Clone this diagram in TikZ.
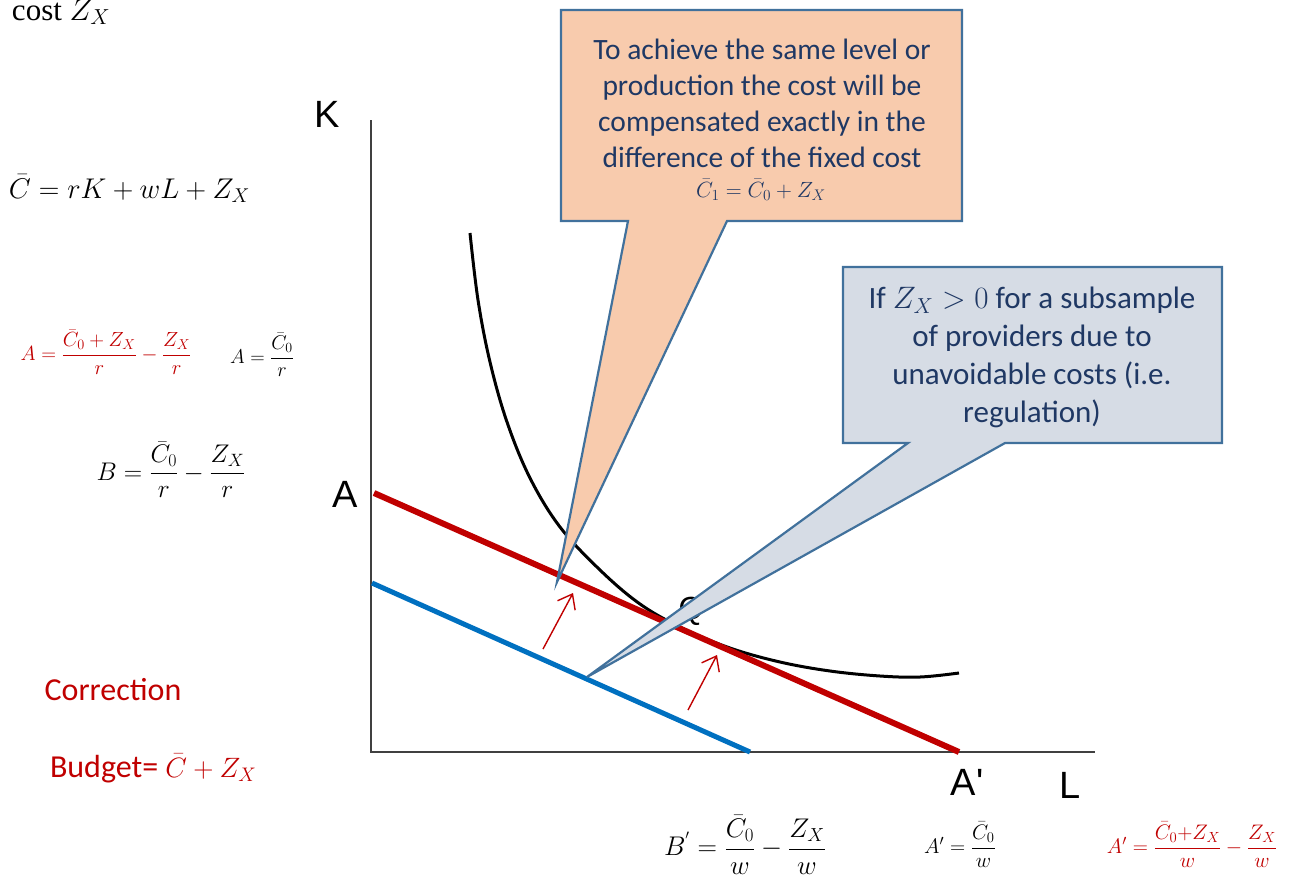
\RequirePackage{fix-cm}
\documentclass[tikz,border=0pt]{standalone}
\usepackage{amsmath}
\usepackage{fontspec}
\setmainfont{Carlito}
\newfontfamily\timesf{Liberation Serif}
\newfontfamily\arialf{Liberation Sans}
\usetikzlibrary{arrows.meta}
\definecolor{cborder}{HTML}{41719C}
\definecolor{peach}{HTML}{F8CBAD}
\definecolor{greyblue}{HTML}{D6DCE5}
\definecolor{navy}{HTML}{1F3864}
\definecolor{darkred}{HTML}{C00000}
\definecolor{lineblue}{HTML}{0070C0}
\definecolor{axisgrey}{HTML}{404040}
\tikzset{
  txt/.style={inner sep=0pt, outer sep=0pt},
  axislbl/.style={txt, font=\arialf\fontsize{38}{44}\selectfont},
  axisline/.style={draw=axisgrey, line width=2pt},
  budgetred/.style={draw=darkred, line width=6pt},
  budgetblue/.style={draw=lineblue, line width=5pt},
  isoq/.style={draw=black, line width=3pt},
  redarrow/.style={draw=darkred, line width=1.4pt, -{Straight Barb[length=13pt, width=20pt, line width=1.4pt]}},
  callout/.style={draw=cborder, line width=2.2pt, line join=miter},
  calltext/.style={txt, text=navy, align=center},
}
\begin{document}
\begin{tikzpicture}[x=1pt,y=-1pt]
\useasboundingbox (0,0) rectangle (1298,879);
% left formulas
\node[txt, anchor=base west, font=\timesf\fontsize{31}{36}\selectfont] (cost) at (12,20) {cost $Z_X$};
\node[txt, anchor=base west, font=\fontsize{28.5}{32}\selectfont] (ceq) at (9,198) {$\bar C = rK + wL + Z_X$};
\node[txt, text=darkred, font=\fontsize{20.5}{24}\selectfont] (ared) at (106,352) {$A = \dfrac{\bar C_0 + Z_X}{r} - \dfrac{Z_X}{r}$};
\node[txt, font=\fontsize{20}{24}\selectfont] (ablack) at (262,355) {$A = \dfrac{\bar C_0}{r}$};
\node[txt, font=\fontsize{25.5}{30}\selectfont] (beq) at (171,470) {$B = \dfrac{\bar C_0}{r} - \dfrac{Z_X}{r}$};
\node[txt, text=darkred, font=\fontsize{32}{38}\selectfont] (corr) at (113,690) {Correction};
\node[txt, anchor=base west, text=darkred, font=\fontsize{32}{38}\selectfont] (budget) at (50,777) {Budget= {\fontsize{28}{32}\selectfont$\bar C + Z_X$}};
% bottom formulas
\node[txt, font=\fontsize{27}{30}\selectfont] (bprime) at (745,845) {$B^{'} = \dfrac{\bar C_0}{w} - \dfrac{Z_X}{w}$};
\node[txt, font=\fontsize{21}{24}\selectfont] (aprime) at (960,845) {$A' = \dfrac{\bar C_0}{w}$};
\node[txt, text=darkred, font=\fontsize{21}{24}\selectfont] (aprimered) at (1192,845) {$A' = \dfrac{\bar C_0{+}Z_X}{w} - \dfrac{Z_X}{w}$};
% axes
\coordinate (ktop) at (371,120);
\coordinate (orig) at (371,752);
\coordinate (lend) at (1095,752);
\draw[axisline] (ktop) -- (orig) -- (lend);
\node[axislbl] (K) at (327,114) {K};
\node[axislbl] (A) at (345,494) {A};
\node[axislbl] (Ap) at (967,782) {A\textquotesingle};
\node[axislbl] (L) at (1070,785) {L};
% Q label
\node[txt, font=\arialf\fontsize{32}{36}\selectfont] (Q) at (691,611) {Q};
% isoquant
\draw[isoq] plot[smooth, tension=0.6] coordinates {(470,233) (478,300) (490,362) (507,422) (530,478) (560,527) (600,570) (640,604) (682,628) (730,648) (780,662) (830,671) (880,676) (920,677) (959,673)};
% budget lines
\coordinate (redA) at (374,493);
\coordinate (redAp) at (959,752);
\coordinate (blueB) at (372,583);
\coordinate (blueBp) at (750,752);
\draw[budgetred] (redA) -- (redAp);
\draw[budgetblue] (blueB) -- (blueBp);
% red shift arrows
\coordinate (r1s) at (543,649);
\coordinate (r1e) at (573,593);
\coordinate (r2s) at (688,710);
\coordinate (r2e) at (717,655);
\draw[redarrow] (r1s) -- (r1e);
\draw[redarrow] (r2s) -- (r2e);
% callout 1
\coordinate (tip1) at (557,582);
\draw[callout, fill=peach] (561,10) -- (962,10) -- (962,221) -- (727,221) -- (tip1) -- (628,221) -- (561,221) -- cycle;
\node[calltext, anchor=north, font=\fontsize{29.5}{36}\selectfont] (c1text) at (762,39) {To achieve the same level or\\production the cost will be\\compensated exactly in the\\difference of the fixed cost};
\node[txt, anchor=base, text=navy, font=\fontsize{22}{24}\selectfont] (c1math) at (761,197) {$\bar C_1 = \bar C_0 + Z_X$};
% callout 2
\coordinate (tip2) at (587,677);
\draw[callout, fill=greyblue] (843,267) -- (1222,267) -- (1222,443) -- (1005,443) -- (tip2) -- (908,443) -- (843,443) -- cycle;
\node[calltext, anchor=north, font=\fontsize{31}{38}\selectfont] (c2text) at (1032,287) {If $Z_X > 0$ for a subsample\\of providers due to\\unavoidable costs (i.e.\\regulation)};
\end{tikzpicture}
\end{document}
